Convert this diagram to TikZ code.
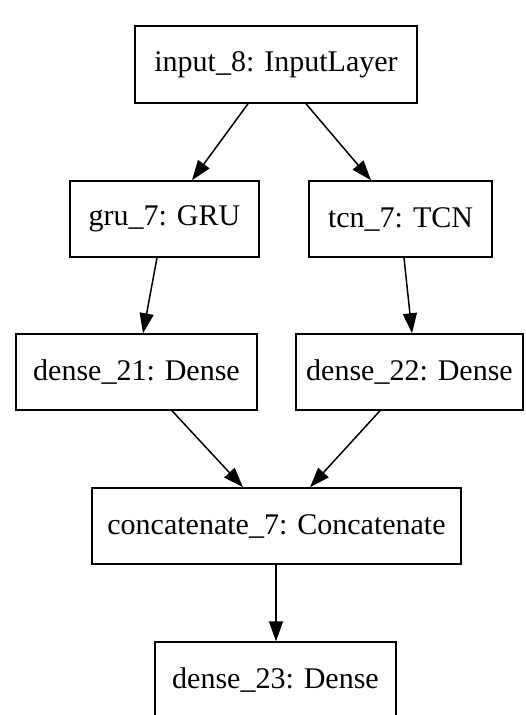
\documentclass[tikz,border=0pt]{standalone}
\usepackage{fontspec}
\setmainfont{Liberation Serif}
\usetikzlibrary{arrows.meta}
\begin{document}
\begin{tikzpicture}[x=1pt,y=1pt,
  layer/.style={draw, line width=1.5pt, minimum height=76pt, inner sep=0pt, font=\fontsize{30}{32}\selectfont},
  conn/.style={line width=1.5pt, -{Triangle[length=20pt,width=14pt]}}]
\useasboundingbox (0,0) rectangle (526,-715);
\node[layer, minimum width=282pt, minimum height=77pt] (input) at (276,-64.5) {input\_8: InputLayer};
\node[layer, minimum width=189pt] (gru) at (164.5,-219) {gru\_7: GRU};
\node[layer, minimum width=183pt] (tcn) at (400.5,-219) {tcn\_7: TCN};
\node[layer, minimum width=241pt] (d21) at (136.5,-372) {dense\_21: Dense};
\node[layer, minimum width=227pt] (d22) at (409.5,-372) {dense\_22: Dense};
\node[layer, minimum width=369pt] (cat) at (276.5,-526) {concatenate\_7: Concatenate};
\node[layer, minimum width=241pt] (d23) at (275.5,-680) {dense\_23: Dense};
\draw[conn] ([xshift=-28pt]input.south) -- ([xshift=27.5pt]gru.north);
\draw[conn] ([xshift=30pt]input.south) -- ([xshift=-29.5pt]tcn.north);
\draw[conn] ([xshift=-7.5pt]gru.south) -- ([xshift=6.5pt]d21.north);
\draw[conn] ([xshift=3.5pt]tcn.south) -- ([xshift=2.5pt]d22.north);
\draw[conn] ([xshift=35.5pt]d21.south) -- ([xshift=-33.5pt]cat.north);
\draw[conn] ([xshift=-29.5pt]d22.south) -- ([xshift=33.5pt]cat.north);
\draw[conn] ([xshift=-0.5pt]cat.south) -- ([xshift=0.5pt]d23.north);
\end{tikzpicture}
\end{document}
